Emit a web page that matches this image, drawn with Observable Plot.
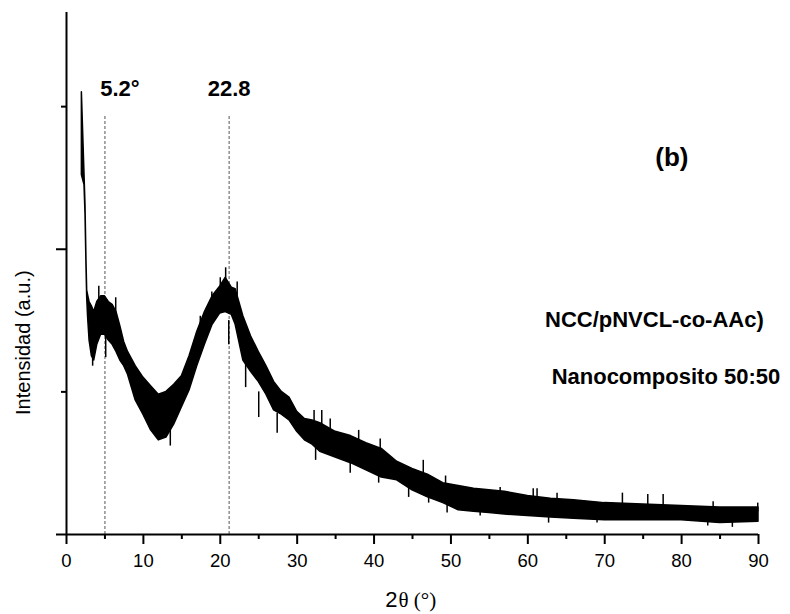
<!DOCTYPE html>
<html>
<head>
<meta charset="utf-8">
<script src="https://cdn.jsdelivr.net/npm/d3@7"></script>
<script src="https://cdn.jsdelivr.net/npm/@observablehq/plot@0.6"></script>
<style>
  body { margin: 0; background: #fff; }
  #chart svg { overflow: visible; }
</style>
</head>
<body>
<div id="chart"></div>
<script>
// 2θ positions (degrees) at which the dense core of the noisy XRD trace was read
const twoTheta = [2.0, 2.34, 2.47, 2.6, 2.69, 2.8, 3.0, 3.3, 3.6, 4.0, 4.5, 5.0, 5.5, 6.0, 6.5, 7.0, 7.5, 8.0, 9, 10, 11, 12, 13, 14, 15, 16, 17, 18, 19, 20, 20.7, 21.5, 22, 23, 24, 25, 26, 27, 28, 29, 30, 31, 32, 33, 35, 37, 39, 41, 43, 45, 47, 49, 51, 53, 55, 57, 60, 63, 66, 70, 75, 80, 85, 90];
// upper edge of the dense band (a.u.)
const upper = [3.10, 2.53, 2.31, 1.92, 1.71, 1.68, 1.63, 1.60, 1.56, 1.63, 1.67, 1.67, 1.63, 1.61, 1.56, 1.46, 1.35, 1.28, 1.18, 1.10, 1.04, 0.98, 1.00, 1.05, 1.11, 1.25, 1.42, 1.56, 1.67, 1.74, 1.80, 1.73, 1.72, 1.53, 1.39, 1.28, 1.18, 1.07, 1.00, 0.96, 0.86, 0.81, 0.80, 0.78, 0.72, 0.69, 0.64, 0.60, 0.51, 0.46, 0.42, 0.36, 0.34, 0.32, 0.31, 0.30, 0.27, 0.25, 0.24, 0.22, 0.21, 0.20, 0.19, 0.19];
// lower edge of the dense band (a.u.)
const lower = [2.52, 2.45, 2.25, 1.88, 1.66, 1.53, 1.36, 1.25, 1.22, 1.33, 1.40, 1.40, 1.36, 1.33, 1.28, 1.22, 1.18, 1.12, 0.94, 0.84, 0.73, 0.66, 0.68, 0.77, 0.89, 1.01, 1.18, 1.33, 1.47, 1.55, 1.56, 1.54, 1.47, 1.22, 1.14, 1.07, 0.98, 0.87, 0.84, 0.80, 0.72, 0.66, 0.63, 0.58, 0.54, 0.50, 0.45, 0.40, 0.38, 0.31, 0.26, 0.22, 0.17, 0.16, 0.15, 0.14, 0.13, 0.12, 0.11, 0.10, 0.10, 0.10, 0.08, 0.09];

// individual noise spikes: position, tip and base (a.u.)
const spikeTheta = [3.4, 4.2, 5.1, 6.4, 13.5, 17.4, 18.9, 20.0, 20.7, 21.1, 22.2, 23.3, 25.0, 27.4, 32.2, 32.4, 33.2, 34.3, 36.9, 38.0, 40.6, 40.8, 44.5, 46.4, 47.1, 49.3, 49.5, 53.8, 56.4, 60.7, 61.2, 62.7, 63.8, 69.0, 72.3, 75.6, 77.6, 83.4, 84.1, 86.6, 89.9];
const spikeTip = [1.18, 1.74, 1.24, 1.66, 0.62, 1.53, 1.70, 1.80, 1.87, 1.33, 1.77, 1.03, 0.82, 0.71, 0.87, 0.52, 0.87, 0.81, 0.43, 0.73, 0.36, 0.67, 0.26, 0.52, 0.22, 0.41, 0.15, 0.13, 0.33, 0.32, 0.32, 0.08, 0.29, 0.08, 0.29, 0.28, 0.28, 0.06, 0.23, 0.05, 0.22];
const spikeBase = [1.35, 1.60, 1.40, 1.50, 0.75, 1.35, 1.55, 1.65, 1.70, 1.50, 1.62, 1.20, 1.00, 0.85, 0.70, 0.68, 0.70, 0.65, 0.58, 0.60, 0.48, 0.55, 0.38, 0.40, 0.33, 0.30, 0.28, 0.22, 0.24, 0.22, 0.22, 0.18, 0.20, 0.16, 0.18, 0.18, 0.18, 0.14, 0.16, 0.13, 0.16];

const xTicks = [0, 10, 20, 30, 40, 50, 60, 70, 80, 90];
const xMinorTicks = [5, 15, 25, 35, 45, 55, 65, 75, 85];
const yMajorTicks = [0, 2];
const yMinorTicks = [1, 3];

const peakPositions = [5.0, 21.15];
const peakLabels = ["5.2°", "22.8"];
const panelLabel = "(b)";
const sampleLines = ["NCC/pNVCL-co-AAc)", "Nanocomposito 50:50"];
const yTitle = "Intensidad (a.u.)";
const xTitleMain = "2";
const xTitleRest = "θ (°)";

const rows = twoTheta.map((t, i) => ({t, hi: upper[i], lo: lower[i]}));
const spikes = spikeTheta.map((t, i) => ({t, tip: spikeTip[i], base: spikeBase[i]}));

const sans = "'Liberation Sans', Arial, Helvetica, sans-serif";
const serif = "'Liberation Serif', 'Times New Roman', serif";

const chart = Plot.plot({
  width: 790,
  height: 614,
  marginLeft: 66,
  marginRight: 32,
  marginTop: 12,
  marginBottom: 80,
  x: {domain: [0, 90]},
  y: {domain: [0, 3.66]},
  style: {fontFamily: sans, color: "#000", background: "#fff", overflow: "visible"},
  marks: [
    Plot.ruleX(peakPositions, {x: d => d, y1: 0, y2: 2.94, stroke: "#555", strokeWidth: 1, strokeDasharray: "3,2"}),
    Plot.areaY(rows, {x: "t", y1: "lo", y2: "hi", fill: "#000", stroke: "#000", strokeWidth: 1.5}),
    Plot.ruleX(spikes, {x: "t", y1: "base", y2: "tip", stroke: "#000", strokeWidth: 1.5}),
    Plot.axisX({ticks: xTicks, tickSize: 10, tickPadding: 9, fontSize: 18.5, strokeWidth: 2, label: null}),
    Plot.axisX({ticks: xMinorTicks, tickSize: 5, text: null, strokeWidth: 2, label: null}),
    Plot.axisY({ticks: yMajorTicks, tickSize: 10, text: null, strokeWidth: 2, label: null}),
    Plot.axisY({ticks: yMinorTicks, tickSize: 5, text: null, strokeWidth: 2, label: null}),
    Plot.ruleX([0], {stroke: "#000", strokeWidth: 2}),
    Plot.ruleY([0], {x1: 0, x2: 90, stroke: "#000", strokeWidth: 2}),
    Plot.text([peakLabels[0]], {x: peakPositions[0], y: 3.076, text: d => d, dx: 15, fontSize: 22, fontWeight: "bold", lineAnchor: "bottom", textAnchor: "middle"}),
    Plot.text([peakLabels[1]], {x: peakPositions[1], y: 3.076, text: d => d, fontSize: 22, fontWeight: "bold", lineAnchor: "bottom", textAnchor: "middle"}),
    Plot.text([panelLabel], {x: 78.73, y: 2.586, text: d => d, fontSize: 26, fontWeight: "bold", lineAnchor: "bottom", textAnchor: "middle"}),
    Plot.text([sampleLines[0]], {x: 76.46, y: 1.458, text: d => d, fontSize: 22, fontWeight: "bold", lineAnchor: "bottom", textAnchor: "middle"}),
    Plot.text([sampleLines[1]], {x: 77.96, y: 1.058, text: d => d, fontSize: 22, fontWeight: "bold", lineAnchor: "bottom", textAnchor: "middle"}),
    Plot.text([yTitle], {x: -5.59, y: 1.345, text: d => d, rotate: -90, fontSize: 20, textAnchor: "middle"}),
    Plot.text([xTitleMain], {x: 43.04, y: -0.505, text: d => d, fontSize: 22, lineAnchor: "bottom", textAnchor: "end"}),
    Plot.text([xTitleRest], {x: 43.17, y: -0.505, text: d => d, fontSize: 21, fontFamily: serif, lineAnchor: "bottom", textAnchor: "start"})
  ]
});

document.getElementById("chart").append(chart);
</script>
</body>
</html>
